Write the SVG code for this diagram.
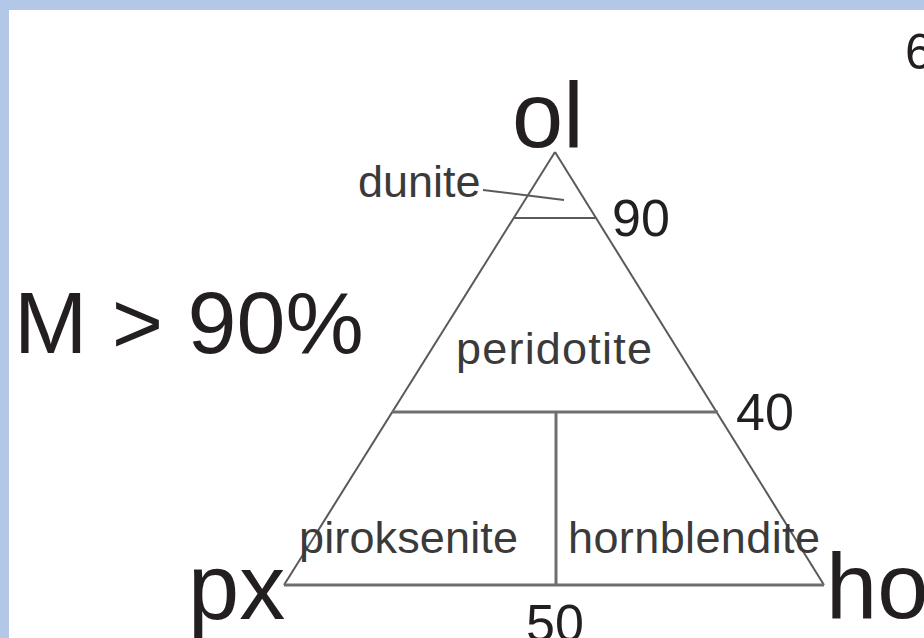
<svg xmlns="http://www.w3.org/2000/svg" width="924" height="638" viewBox="0 0 924 638">
<style>
text{font-family:"Liberation Sans",Arial,sans-serif;fill:#231f20}
.big{font-size:92px}
.num{font-size:52px}
.lbl{font-size:45px;fill:#3a3a3a}
.edge{stroke:#5a5a5a;stroke-width:2;fill:none}
.div{stroke:#6e6e6e;stroke-width:3;fill:none}
</style>
<rect x="0" y="0" width="924" height="638" fill="#b3c8e7"/>
<rect x="9" y="10" width="915" height="628" fill="#ffffff"/>
<g id="connectors">
<line class="edge" x1="555" y1="152" x2="284" y2="585"/>
<line class="edge" x1="555" y1="152" x2="824" y2="585"/>
<line class="div" x1="284" y1="585" x2="824" y2="585"/>
<line class="div" x1="392" y1="412" x2="718" y2="412"/>
<line class="div" x1="556" y1="412" x2="556" y2="585"/>
<line class="edge" x1="514" y1="218" x2="596" y2="218"/>
<line class="edge" x1="483" y1="190" x2="564" y2="200"/>
</g>
<g id="ol"><text class="big" x="512" y="147">ol</text></g>
<g id="px"><text class="big" x="188" y="619">px</text></g>
<g id="ho"><text class="big" x="826" y="618">ho</text></g>
<g id="m90"><text x="14" y="353" style="font-size:88px">M &gt; 90%</text></g>
<g id="six"><text x="905" y="69" style="font-size:50px">6</text></g>
<g id="n90"><text class="num" x="612" y="236">90</text></g>
<g id="n40"><text class="num" x="736" y="430">40</text></g>
<g id="n50"><text class="num" x="526" y="641">50</text></g>
<g id="dunite"><text class="lbl" x="358" y="197">dunite</text></g>
<g id="peridotite"><text class="lbl" x="456" y="364" textLength="196">peridotite</text></g>
<g id="piroksenite"><text class="lbl" x="299" y="553" textLength="219">piroksenite</text></g>
<g id="hornblendite"><text class="lbl" x="568" y="553" textLength="252">hornblendite</text></g>
</svg>
